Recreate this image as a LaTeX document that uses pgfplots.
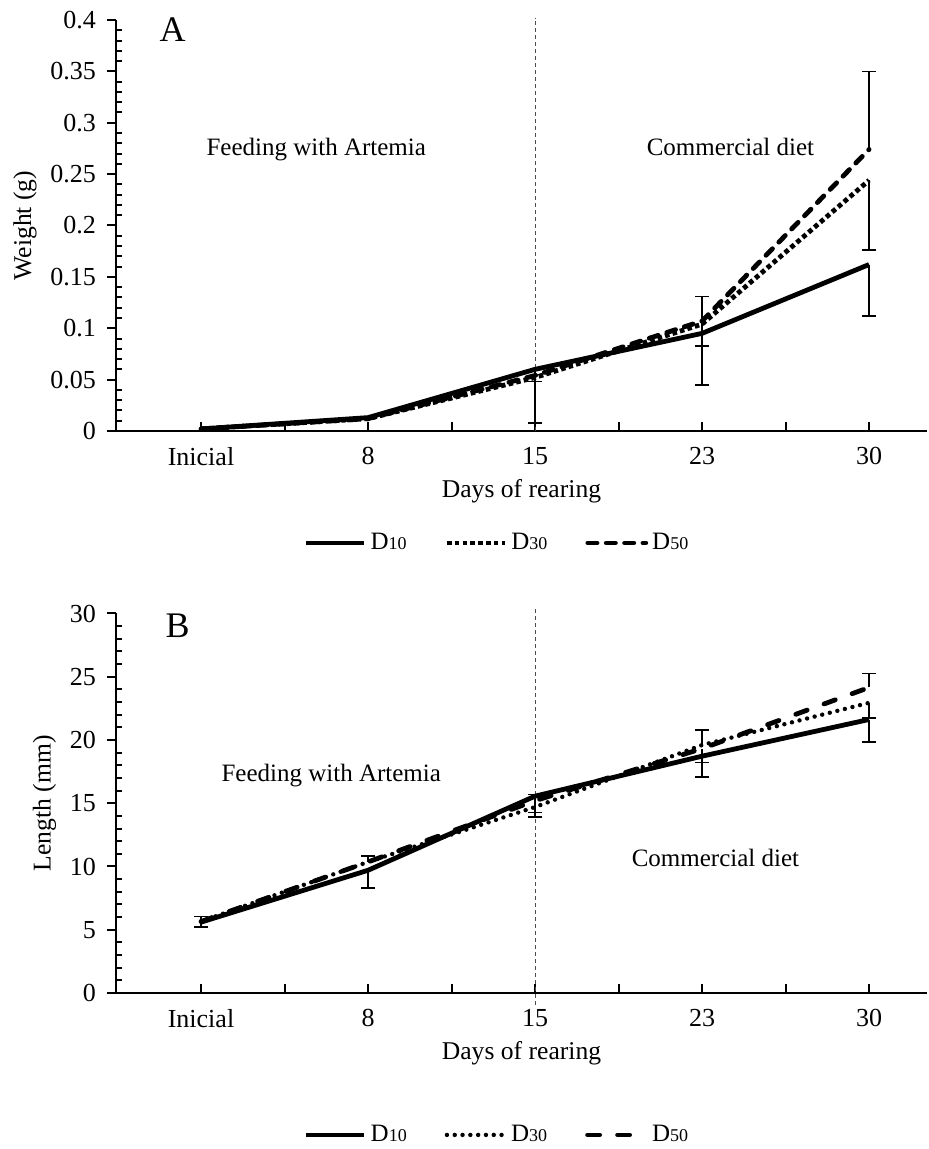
\documentclass[border=0pt]{standalone}
\usepackage{fontspec}
\setmainfont{Liberation Serif}
\usepackage{pgfplots}
\pgfplotsset{compat=1.18}
\usepackage{pgfplotstable}

% weight (g)
\pgfplotstableread{
x d10 d30 d50
0 0.002 0.002 0.002
1 0.013 0.012 0.012
2 0.060 0.052 0.054
3 0.095 0.104 0.107
4 0.162 0.244 0.274
}\weight

% length (mm)
\pgfplotstableread{
x d10 d30 d50
0 5.60 5.65 5.65
1 9.70 10.36 10.36
2 15.56 14.70 15.20
3 18.72 19.60 19.32
4 21.62 22.94 24.15
}\lengthtab

\newcommand{\Dn}[1]{D{\fontsize{9}{9}\selectfont #1}}

\tikzset{note/.style={font=\fontsize{12.5}{14}\selectfont, anchor=center}}

\pgfplotsset{
  panel/.style={
    scale only axis, width=405.5pt,
    xmin=-0.509, xmax=4.347,
    axis x line=bottom, axis y line=left,
    axis line style={-, line width=1.2pt},
    xtick={0,0.5,...,4}, xticklabels={Inicial,,8,,15,,23,,30},
    minor x tick num=0, minor y tick num=4,
    tick align=outside, major tick length=4.5pt, minor tick length=3pt,
    tick style={black, line width=1pt},
    major x tick style={yshift=4.5pt},
    minor y tick style={xshift=3pt},
    /pgf/number format/assume math mode=true,
    yticklabel style={/pgf/number format/fixed, /pgf/number format/precision=2, xshift=-2pt},
    tick label style={font=\fontsize{13}{15}\selectfont},
    label style={font=\fontsize{12.8}{15}\selectfont},
    xlabel={Days of rearing},
    clip=false,
    legend columns=3,
    legend image code/.code={\draw[#1] (0pt,0pt) -- (29pt,0pt);},
    legend style={draw=none, fill=none, anchor=center,
      font=\fontsize{12.5}{14}\selectfont,
      /tikz/every even column/.append style={column sep=17pt},
      /tikz/every odd column/.append style={column sep=0pt},
      inner sep=0pt},
  },
  s10/.style={black, line width=2.4pt, line join=round},
  ebar/.style={draw=none, mark=none, forget plot,
    error bars/.cd, y dir=#1, y explicit,
    error bar style={draw=black, solid, line width=0.8pt},
    error mark options={draw=black, solid, line width=0.8pt, mark size=3.5pt, rotate=90}},
  vline/.style={draw=black!70, line width=0.5pt, dash pattern=on 2pt off 1.5pt, forget plot},
}

\begin{document}
\begin{tikzpicture}
\useasboundingbox (0,0) rectangle (464.5pt,574.5pt);

% ---------- panel A ----------
\begin{axis}[panel,
  at={(58pt,359pt)}, anchor=south west, height=205.5pt,
  ymin=0, ymax=0.4, ytick={0,0.05,...,0.4},
  ylabel={Weight (g)},
  legend style={at={(0.471,-0.2725)}},
]
\addplot[vline] coordinates {(2,0) (2,0.402)};
\addplot[s10] table[x=x, y=d10] {\weight};
\addlegendentry{\Dn{10}}
\addplot[black, line width=2.4pt, line cap=butt, dash pattern=on 2.3pt off 1.6pt] table[x=x, y=d30] {\weight};
\addlegendentry{\Dn{30}}
\addplot[black, line width=2.4pt, line cap=round, dash pattern=on 4.6pt off 4.6pt] table[x=x, y=d50] {\weight};
\addlegendentry{\Dn{50}}
\addplot[ebar=plus] coordinates {(3,0.107) +- (0,0.024) (4,0.274) +- (0,0.076)};
\addplot[ebar=minus] coordinates {(2,0.060) +- (0,0.012) (2,0.052) +- (0,0.044)
  (3,0.107) +- (0,0.024) (3,0.095) +- (0,0.050) (4,0.244) +- (0,0.068) (4,0.162) +- (0,0.050)};
\node[note] at (axis cs:0.69,0.2735) {Feeding with Artemia};
\node[note] at (axis cs:3.17,0.276) {Commercial diet};
\node[font=\fontsize{18}{20}\selectfont] at (axis cs:-0.17,0.391) {A};
\end{axis}

% ---------- panel B ----------
\begin{axis}[panel,
  at={(58pt,78pt)}, anchor=south west, height=189.75pt,
  ymin=0, ymax=30, ytick={0,5,...,30},
  ylabel={Length (mm)},
  legend style={at={(0.471,-0.374)}},
]
\addplot[vline] coordinates {(2,-0.95) (2,30.5)};
\addplot[s10] table[x=x, y=d10] {\lengthtab};
\addlegendentry{\Dn{10}}
\addplot[black, line width=2.2pt, line cap=round, dash pattern=on 0pt off 3.9pt] table[x=x, y=d30] {\lengthtab};
\addlegendentry{\Dn{30}}
\addplot[black, line width=2.4pt, line cap=round, dash pattern=on 6pt off 9pt] table[x=x, y=d50] {\lengthtab};
\addlegendentry{\Dn{50}}
\addplot[ebar=both] coordinates {(0,5.62) +- (0,0.42)};
\addplot[ebar=plus] coordinates {(1,10.36) +- (0,0.45) (2,15.2) +- (0,0.5)
  (3,19.6) +- (0,1.18) (4,24.15) +- (0,1.1)};
\addplot[ebar=minus] coordinates {(1,9.7) +- (0,1.4) (2,14.7) +- (0,0.8)
  (2,15.56) +- (0,1.3) (3,18.72) +- (0,1.64) (3,19.32) +- (0,1.1)
  (4,22.94) +- (0,1.2) (4,21.62) +- (0,1.8)};
\node[note] at (axis cs:0.78,17.2) {Feeding with Artemia};
\node[note] at (axis cs:3.08,10.7) {Commercial diet};
\node[font=\fontsize{18}{20}\selectfont] at (axis cs:-0.14,29.0) {B};
\end{axis}
\end{tikzpicture}
\end{document}
